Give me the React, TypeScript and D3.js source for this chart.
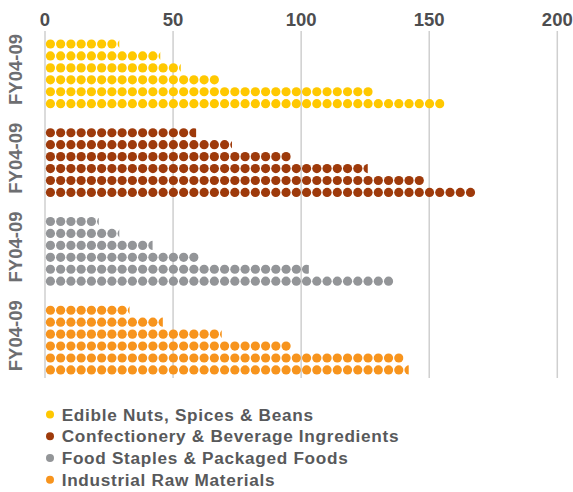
import React from "react";
import * as d3 from "d3";

// Revenue by business segment, each as six stacked dot-rows (FY04–FY09)
const segments = [
  "Edible Nuts, Spices & Beans",
  "Confectionery & Beverage Ingredients",
  "Food Staples & Packaged Foods",
  "Industrial Raw Materials",
];
const periodLabel = "FY04-09";
const edibleNuts = [29, 45, 53, 68, 128, 156];
const confectionery = [59, 73, 96, 126, 148, 168];
const foodStaples = [21, 29, 42, 60, 103, 136];
const industrialRaw = [33, 46, 69, 96, 140, 142];
const seriesValues = [edibleNuts, confectionery, foodStaples, industrialRaw];
const colors = ["#FFC800", "#9E3A0B", "#939598", "#F7941D"];
const xTicks = [0, 50, 100, 150, 200];
const unitPerDot = 4;

const W = 573;
const H = 492;
const FONT = "'Liberation Sans', Arial, Helvetica, sans-serif";

export default function App() {
  const x = d3.scaleLinear().domain([0, 200]).range([45, 557.3]);
  const groupY = d3
    .scaleBand<number>()
    .domain(d3.range(segments.length))
    .range([31, 386]);
  const rowY = d3
    .scaleBand<number>()
    .domain(d3.range(6))
    .range([7.05, 7.05 + 6 * 11.93]);
  const r = 4.6;
  const dotStep = x(unitPerDot) - x(0);

  return (
    <svg
      width={W}
      height={H}
      style={{ position: "absolute", left: 0, top: 0, background: "#fff" }}
      fontFamily={FONT}
    >
      <defs>
        {seriesValues.map((vals, g) =>
          vals.map((v, i) => (
            <clipPath id={`clip-${g}-${i}`} key={`${g}-${i}`}>
              <rect
                x={x(0)}
                y={(groupY(g) ?? 0) + (rowY(i) ?? 0)}
                width={x(v) - x(0)}
                height={rowY.bandwidth()}
              />
            </clipPath>
          ))
        )}
      </defs>

      {/* vertical grid lines */}
      {xTicks.map((t) => (
        <line
          key={`grid-${t}`}
          x1={x(t)}
          x2={x(t)}
          y1={31}
          y2={378}
          stroke="#cfcfcf"
          strokeWidth={1.5}
        />
      ))}

      {/* top axis labels */}
      {xTicks.map((t) => (
        <text
          key={`tick-${t}`}
          x={x(t)}
          y={25.7}
          textAnchor="middle"
          fontSize={18.5}
          fontWeight="bold"
          fill="#4d4d4f"
        >
          {t}
        </text>
      ))}

      {/* dot rows */}
      {seriesValues.map((vals, g) =>
        vals.map((v, i) => {
          const cy = (groupY(g) ?? 0) + (rowY(i) ?? 0) + rowY.bandwidth() / 2;
          const n = Math.ceil(v / unitPerDot);
          return (
            <g key={`row-${g}-${i}`} clipPath={`url(#clip-${g}-${i})`}>
              {d3.range(n).map((k) => (
                <circle
                  key={k}
                  cx={x(0) + dotStep * k + dotStep / 2 + 0.3}
                  cy={cy}
                  r={r}
                  fill={colors[g]}
                />
              ))}
            </g>
          );
        })
      )}

      {/* group labels */}
      {segments.map((s, g) => {
        const cy = (groupY(g) ?? 0) + (rowY(0) ?? 0) + 25.5 + 5.95;
        return (
          <text
            key={`glabel-${s}`}
            transform={`translate(22.3,${cy}) rotate(-90)`}
            textAnchor="middle"
            fontSize={18.5}
            fontWeight="bold"
            fill="#6d6e71"
          >
            {periodLabel}
          </text>
        );
      })}

      {/* legend */}
      {segments.map((s, g) => {
        const base = 420.5 + g * 21.75;
        return (
          <g key={`leg-${s}`}>
            <circle cx={50} cy={base - 6} r={4} fill={colors[g]} />
            <text
              x={61.7}
              y={base}
              fontSize={17.2}
              fontWeight="bold"
              letterSpacing={0.7}
              fill="#58595b"
            >
              {s}
            </text>
          </g>
        );
      })}
    </svg>
  );
}
